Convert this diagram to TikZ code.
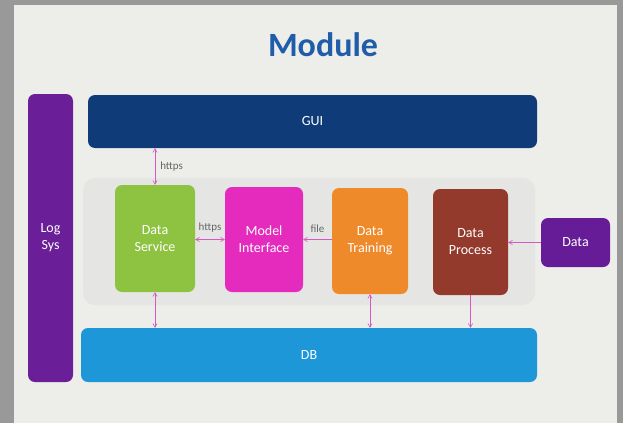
\documentclass[tikz,border=0pt]{standalone}
\usepackage{fontspec}
\setmainfont{Carlito}
\usetikzlibrary{arrows}

\definecolor{slidebg}{HTML}{EDEEEA}
\definecolor{panelbg}{HTML}{E5E6E3}
\definecolor{titleblue}{HTML}{1F5DAA}
\definecolor{logpurple}{HTML}{6A1F98}
\definecolor{guinavy}{HTML}{0F3C78}
\definecolor{servgreen}{HTML}{8EC341}
\definecolor{modelpink}{HTML}{E42BBE}
\definecolor{trainorange}{HTML}{EE8A2A}
\definecolor{procbrown}{HTML}{943A2C}
\definecolor{datapurple}{HTML}{651C96}
\definecolor{dbblue}{HTML}{1D97D8}
\definecolor{linkpink}{HTML}{D558C4}

\tikzset{
  block/.style={rounded corners=7, text=white, align=center, inner sep=0,
    font=\fontsize{14}{17}\selectfont},
  link/.style={draw=linkpink, semithick, >=angle 60},
  tag/.style={text=black!60, inner sep=1, font=\fontsize{11}{13}\selectfont}
}

\begin{document}
\begin{tikzpicture}[x=1pt, y=-1pt]
\useasboundingbox (0,0) rectangle (623,423);
\fill[black!40] (0,0) rectangle (623,423);
\fill[slidebg] (14,5) rectangle (617,423);
\fill[panelbg, rounded corners=12] (83,178) rectangle (535,305);

\node[text=titleblue, font=\fontsize{34}{40}\selectfont\bfseries] (title) at (323,45) {Module};

\node[block, fill=logpurple, minimum width=45, minimum height=288] (logsys) at (50.5,238) {Log\\Sys};
\node[block, fill=guinavy, minimum width=449, minimum height=53] (gui) at (312.5,121.5) {GUI};
\node[block, fill=servgreen, minimum width=80, minimum height=107] (dserv) at (155,238.5) {Data\\Service};
\node[block, fill=modelpink, minimum width=78, minimum height=105] (model) at (264,239.5) {Model\\Interface};
\node[block, fill=trainorange, minimum width=76, minimum height=106] (train) at (370,241) {Data\\Training};
\node[block, fill=procbrown, minimum width=75, minimum height=106] (proc) at (470.5,242) {Data\\Process};
\node[block, fill=datapurple, minimum width=69, minimum height=49] (data) at (575.5,242.5) {Data};
\node[block, fill=dbblue, minimum width=456, minimum height=54] (db) at (309,355) {DB};

% connectors
\draw[link, <->] (dserv.north) -- (dserv.north |- gui.south) node[tag, midway, right, xshift=4] (tagA) {https};
\draw[link, <->] (dserv.east |- model.west) -- (model.west) node[tag, midway, above, yshift=6] (tagB) {https};
\draw[link, ->] (train.west |- model.east) -- (model.east) node[tag, midway, above, yshift=6] (tagC) {file};
\draw[link, ->] (data.west) -- (data.west -| proc.east);
\draw[link, <->] (dserv.south) -- (dserv.south |- db.north);
\draw[link, <->] (train.south) -- (train.south |- db.north);
\draw[link, ->] (proc.south) -- (proc.south |- db.north);
\end{tikzpicture}
\end{document}
